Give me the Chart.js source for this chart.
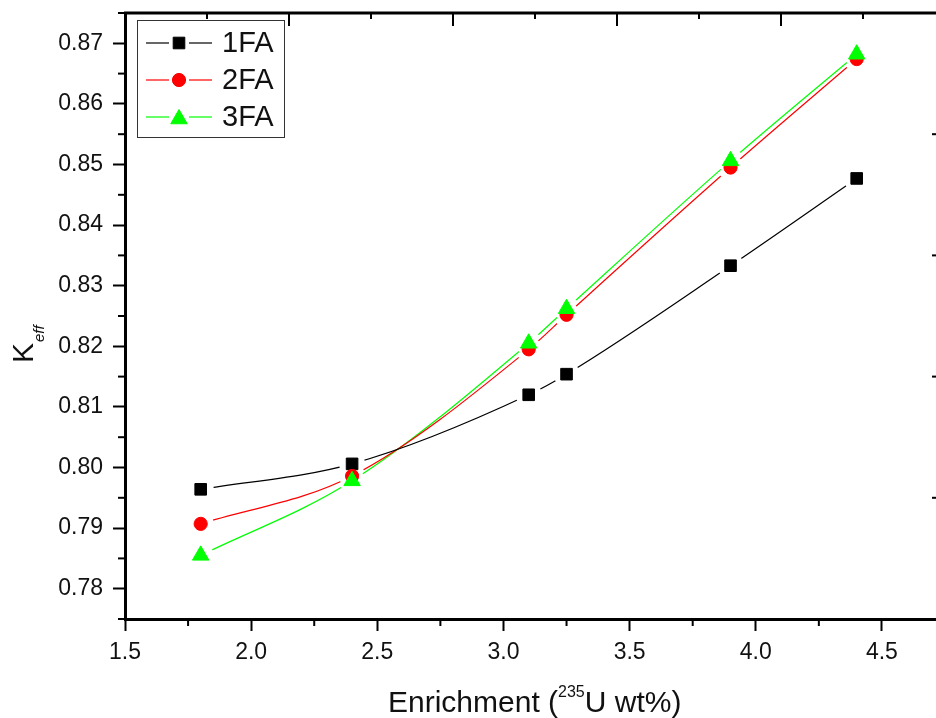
<!DOCTYPE html>
<html>
<head>
<meta charset="utf-8">
<script src="https://cdn.jsdelivr.net/npm/chart.js@4/dist/chart.umd.min.js"></script>
<style>
  html, body { margin: 0; padding: 0; background: #fff; overflow: hidden; }
</style>
</head>
<body>
<canvas id="keffChart" width="960" height="718"></canvas>
<script>
// enrichment values (235U wt%)
const enrichment = [1.8, 2.4, 3.1, 3.25, 3.9, 4.4];
// Keff for each configuration
const keff1FA = [0.7964, 0.8006, 0.8120, 0.8154, 0.8333, 0.8477];
const keff2FA = [0.7907, 0.7986, 0.8195, 0.8252, 0.8495, 0.8674];
const keff3FA = [0.7855, 0.7978, 0.8205, 0.8262, 0.8506, 0.8682];
const seriesNames = ['1FA', '2FA', '3FA'];

const xTicks = [1.5, 2.0, 2.5, 3.0, 3.5, 4.0, 4.5];
const xMinor = [1.75, 2.25, 2.75, 3.25, 3.75, 4.25, 4.75];
const yTicks = [0.78, 0.79, 0.80, 0.81, 0.82, 0.83, 0.84, 0.85, 0.86, 0.87];
const yMinor = [0.775, 0.785, 0.795, 0.805, 0.815, 0.825, 0.835, 0.845, 0.855, 0.865, 0.875];
// top / right axes have their own unlabelled 0..5 scale
const sideMajor = [0, 1, 2, 3, 4, 5];
const sideMinor = [0.5, 1.5, 2.5, 3.5, 4.5];

const FONT = "'Liberation Sans', Arial, sans-serif";
const GAP = 13;

function pts(ys) {
    return enrichment.map((x, i) => ({ x: x, y: ys[i] }));
}

const styles = [
    { color: '#000000', pointStyle: 'rect', radius: 8.2 },
    { color: '#ff0000', pointStyle: 'circle', radius: 6.6 },
    { color: '#00ff00', pointStyle: 'triangle', radius: 9.5 }
];
const allSeries = [keff1FA, keff2FA, keff3FA];

const datasets = [];
allSeries.forEach((ys, i) => {
    // curve, with a gap cut around each point
    datasets.push({
        label: seriesNames[i] + ' line',
        data: pts(ys),
        gap: true,
        borderColor: styles[i].color,
        borderWidth: 1.2,
        pointRadius: 0,
        cubicInterpolationMode: 'monotone',
        fill: false,
        order: 10 + i
    });
});
allSeries.forEach((ys, i) => {
    datasets.push({
        label: seriesNames[i],
        data: pts(ys),
        marker: true,
        showLine: false,
        pointStyle: styles[i].pointStyle,
        pointRadius: styles[i].radius,
        pointBackgroundColor: styles[i].color,
        pointBorderColor: styles[i].color,
        pointBorderWidth: 1,
        order: 3 - i
    });
});

function line(ctx, x1, y1, x2, y2) {
    ctx.beginPath();
    ctx.moveTo(x1, y1);
    ctx.lineTo(x2, y2);
    ctx.stroke();
}

const lineGaps = {
    id: 'lineGaps',
    beforeDatasetDraw(chart, args) {
        const ds = chart.data.datasets[args.index];
        if (!ds.gap) return;
        const ctx = chart.ctx;
        ctx.save();
        ctx.beginPath();
        ctx.rect(0, 0, chart.width, chart.height);
        args.meta.data.forEach(p => {
            ctx.moveTo(p.x + GAP, p.y);
            ctx.arc(p.x, p.y, GAP, 0, Math.PI * 2);
        });
        ctx.clip('evenodd');
    },
    afterDatasetDraw(chart, args) {
        if (chart.data.datasets[args.index].gap) chart.ctx.restore();
    }
};

const axesExtras = {
    id: 'axesExtras',
    afterDraw(chart) {
        const { ctx, chartArea: a, scales } = chart;
        ctx.save();
        ctx.strokeStyle = '#000';
        ctx.lineWidth = 3;
        ctx.beginPath();
        ctx.moveTo(a.left - 1, a.top);
        ctx.lineTo(a.right, a.top);
        ctx.lineTo(a.right, a.bottom);
        ctx.stroke();

        ctx.lineWidth = 2;
        xMinor.forEach(v => {
            const px = scales.x.getPixelForValue(v);
            line(ctx, px, a.bottom, px, a.bottom + 7);
        });
        yMinor.forEach(v => {
            const py = scales.y.getPixelForValue(v);
            line(ctx, a.left - 7, py, a.left, py);
        });
        sideMajor.forEach(v => {
            const px = scales.x2.getPixelForValue(v);
            line(ctx, px, a.top, px, a.top + 13);
            const py = scales.y2.getPixelForValue(v);
            line(ctx, a.right - 13, py, a.right, py);
        });
        sideMinor.forEach(v => {
            const px = scales.x2.getPixelForValue(v);
            line(ctx, px, a.top, px, a.top + 6);
            const py = scales.y2.getPixelForValue(v);
            line(ctx, a.right - 6, py, a.right, py);
        });

        // x title with superscript
        ctx.fillStyle = '#111';
        ctx.textBaseline = 'alphabetic';
        ctx.textAlign = 'left';
        let tx = 388, ty = 712;
        ctx.font = '30px ' + FONT;
        ctx.fillText('Enrichment (', tx, ty);
        tx += ctx.measureText('Enrichment (').width;
        ctx.font = '16px ' + FONT;
        ctx.fillText('235', tx, ty - 15);
        tx += ctx.measureText('235').width;
        ctx.font = '30px ' + FONT;
        ctx.fillText('U wt%)', tx, ty);

        // y title K_eff
        ctx.save();
        ctx.translate(33, 363);
        ctx.rotate(-Math.PI / 2);
        ctx.font = '30px ' + FONT;
        ctx.fillText('K', 0, 0);
        const kw = ctx.measureText('K').width;
        ctx.font = 'italic 15px ' + FONT;
        ctx.fillText('eff', kw + 1, 11);
        ctx.restore();

        // legend
        const box = { x: 137.5, y: 20.5, w: 147, h: 117 };
        ctx.fillStyle = '#fff';
        ctx.fillRect(box.x, box.y, box.w, box.h);
        ctx.lineWidth = 1;
        ctx.strokeStyle = '#333';
        ctx.strokeRect(box.x, box.y, box.w, box.h);
        const markers = chart.data.datasets.filter(d => d.marker);
        markers.forEach((d, i) => {
            const cy = 43 + i * 37;
            const cx = 179;
            ctx.strokeStyle = d.pointBorderColor;
            ctx.lineWidth = 1.2;
            line(ctx, 146, cy, cx - 10, cy);
            line(ctx, cx + 10, cy, 212, cy);
            ctx.fillStyle = d.pointBackgroundColor;
            ctx.strokeStyle = d.pointBorderColor;
            ctx.lineWidth = 1;
            Chart.helpers.drawPoint(ctx, {
                pointStyle: d.pointStyle,
                radius: d.pointRadius,
                rotation: 0,
                borderWidth: 1
            }, cx, cy + (d.pointStyle === 'triangle' ? 2 : 0));
            ctx.fillStyle = '#111';
            ctx.font = '29px ' + FONT;
            ctx.textBaseline = 'middle';
            ctx.fillText(d.label, 222, cy + 1);
        });
        ctx.restore();
    }
};

new Chart(document.getElementById('keffChart'), {
    type: 'line',
    data: { datasets: datasets },
    options: {
        responsive: false,
        animation: false,
        events: [],
        layout: { padding: { top: 13, right: 15, left: 0, bottom: 0 } },
        plugins: {
            legend: { display: false },
            tooltip: { enabled: false }
        },
        scales: {
            x: {
                type: 'linear',
                min: 1.5,
                max: 4.75,
                afterBuildTicks: s => { s.ticks = xTicks.map(v => ({ value: v })); },
                afterFit: s => { s.height = 99; s.paddingLeft = 0; s.paddingRight = 0; },
                grid: { drawOnChartArea: false, tickLength: 12, tickWidth: 2, tickColor: '#000' },
                border: { display: true, color: '#000', width: 3 },
                ticks: {
                    color: '#111',
                    padding: 8,
                    maxRotation: 0,
                    font: { family: FONT, size: 23 },
                    callback: v => v.toFixed(1)
                }
            },
            y: {
                type: 'linear',
                min: 0.775,
                max: 0.875,
                afterBuildTicks: s => { s.ticks = yTicks.map(v => ({ value: v })); },
                afterFit: s => { s.width = 125; s.paddingTop = 0; s.paddingBottom = 0; },
                grid: { drawOnChartArea: false, tickLength: 12, tickWidth: 2, tickColor: '#000' },
                border: { display: true, color: '#000', width: 3 },
                ticks: {
                    color: '#111',
                    padding: 10,
                    font: { family: FONT, size: 23 },
                    callback: v => v.toFixed(2)
                }
            },
            x2: { type: 'linear', position: 'top', min: 0, max: 5, display: false },
            y2: { type: 'linear', position: 'right', min: 0, max: 5, display: false }
        }
    },
    plugins: [lineGaps, axesExtras]
});
</script>
</body>
</html>
